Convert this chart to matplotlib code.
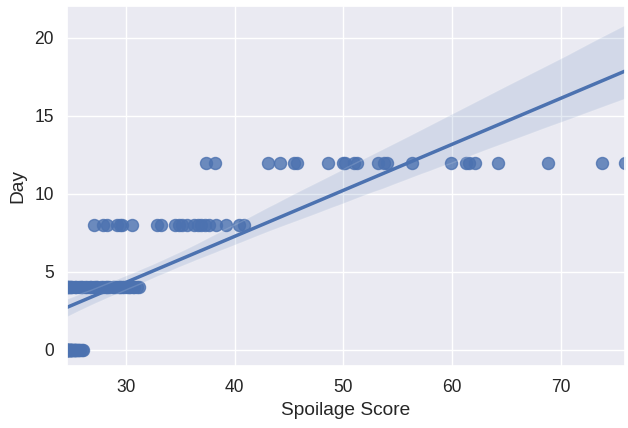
import numpy as np
import matplotlib
matplotlib.use("Agg")
import matplotlib.pyplot as plt
import seaborn as sns

# spoilage score readings grouped by the day they were taken
score_day0 = [24.6, 24.6, 24.6, 24.6, 24.6, 24.7, 24.7, 24.7, 24.8, 24.8,
              24.9, 24.9, 25.0, 25.0, 25.0, 25.1, 25.1, 25.2, 25.2, 25.3,
              25.3, 25.4, 25.5, 25.6, 25.7, 25.8, 26.0, 26.1]
score_day4 = [24.6, 24.6, 24.7, 24.8, 24.9, 25.0, 25.1, 25.3, 25.4, 25.7,
              25.9, 26.0, 26.3, 26.4, 26.7, 26.8, 27.1, 27.3, 27.4, 27.7,
              27.9, 28.2, 28.3, 28.5, 28.8, 28.9, 29.1, 29.4, 29.5, 29.7,
              29.8, 30.1, 30.3, 30.4, 30.7, 30.8, 31.0, 31.2]
score_day8 = [27.1, 27.9, 28.3, 29.2, 29.5, 29.7, 30.6, 32.9, 33.2, 34.5,
              34.9, 35.2, 35.6, 36.3, 36.6, 36.9, 37.3, 37.7, 38.3, 39.2,
              40.4, 40.9]
score_day12 = [37.4, 38.2, 43.1, 44.2, 45.5, 45.7, 48.6, 50.0, 50.2, 51.0,
               51.3, 53.2, 53.7, 54.0, 56.3, 59.9, 61.3, 61.6, 62.1, 64.2,
               68.8, 73.8, 75.9]
days = [0, 4, 8, 12]

x = np.array(score_day0 + score_day4 + score_day8 + score_day12)
y = np.array([days[0]] * len(score_day0) + [days[1]] * len(score_day4)
             + [days[2]] * len(score_day8) + [days[3]] * len(score_day12))

sns.set_theme(style="darkgrid", font_scale=1.15)
plt.rcParams['font.family'] = ['Liberation Sans', 'DejaVu Sans']

fig, ax = plt.subplots(figsize=(6.28, 4.28), dpi=100)
sns.regplot(x=x, y=y, ax=ax, seed=0,
            scatter_kws={"s": 75}, line_kws={"linewidth": 2.5})
ax.set_xlim(x.min(), x.max())
ax.set_ylim(-1.05, 22.05)
ax.set_xlabel("Spoilage Score")
ax.set_ylabel("Day", labelpad=6)
fig.subplots_adjust(left=67/628, right=625/628, top=1-6/428, bottom=1-366/428)
fig.savefig("out.png")
